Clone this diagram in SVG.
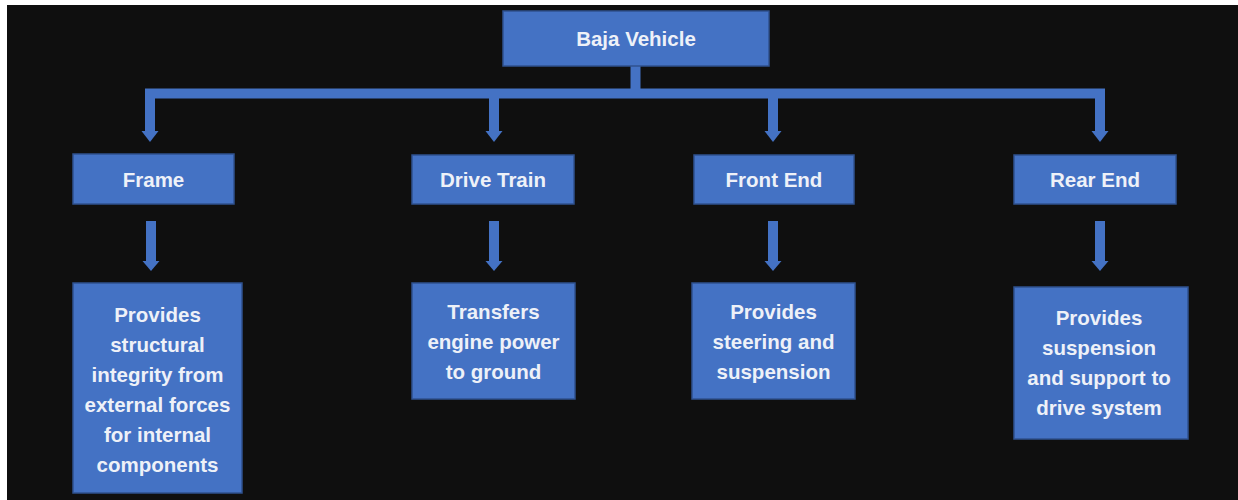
<svg xmlns="http://www.w3.org/2000/svg" width="1238" height="500" viewBox="0 0 1238 500">
<style>
.box{fill:#4472c4;stroke:#2f528f;stroke-width:1.5}
.t{font-family:"Liberation Sans",Arial,sans-serif;font-weight:bold;font-size:20.5px;fill:#eef1f8;text-anchor:middle}
.d{font-size:20.5px}
.ln{fill:none;stroke:#4472c4;stroke-width:10;stroke-linejoin:miter}
.hd{fill:#4472c4}
</style>
<rect x="0" y="0" width="1238" height="500" fill="#ffffff"/>
<rect x="7" y="5" width="1231" height="495" fill="#0f0f0f"/>
<g id="connectors">
<path class="ln" d="M635.5,66 V93.5 M150,132 V93.5 H1100 V132 M494,93.5 V132 M773,93.5 V132"/>
<polygon class="hd" points="141.5,131 158.5,131 150,142"/>
<polygon class="hd" points="485.5,131 502.5,131 494,142"/>
<polygon class="hd" points="764.5,131 781.5,131 773,142"/>
<polygon class="hd" points="1091.5,131 1108.5,131 1100,142"/>
<path class="ln" d="M151,221 V262 M494,221 V262 M773,221 V262 M1100,221 V262"/>
<polygon class="hd" points="142.5,261 159.5,261 151,271"/>
<polygon class="hd" points="485.5,261 502.5,261 494,271"/>
<polygon class="hd" points="764.5,261 781.5,261 773,271"/>
<polygon class="hd" points="1091.5,261 1108.5,261 1100,271"/>
</g>
<g id="baja-vehicle">
<rect class="box" x="503" y="11" width="266" height="55"/>
<text class="t" x="636" y="46">Baja Vehicle</text>
</g>
<g id="frame">
<rect class="box" x="73" y="154" width="161" height="50"/>
<text class="t" x="153.5" y="187">Frame</text>
</g>
<g id="drive-train">
<rect class="box" x="412" y="155" width="162" height="49"/>
<text class="t" x="493" y="187">Drive Train</text>
</g>
<g id="front-end">
<rect class="box" x="694" y="155" width="160" height="49"/>
<text class="t" x="774" y="187">Front End</text>
</g>
<g id="rear-end">
<rect class="box" x="1014" y="155" width="162" height="49"/>
<text class="t" x="1095" y="187">Rear End</text>
</g>
<g id="frame-desc">
<rect class="box" x="73" y="283" width="169" height="210"/>
<text class="t d" x="157.5" y="322">Provides</text>
<text class="t d" x="157.5" y="352">structural</text>
<text class="t d" x="157.5" y="382">integrity from</text>
<text class="t d" x="157.5" y="412">external forces</text>
<text class="t d" x="157.5" y="442">for internal</text>
<text class="t d" x="157.5" y="472">components</text>
</g>
<g id="drive-train-desc">
<rect class="box" x="412" y="283" width="163" height="116"/>
<text class="t d" x="493.5" y="319">Transfers</text>
<text class="t d" x="493.5" y="349">engine power</text>
<text class="t d" x="493.5" y="379">to ground</text>
</g>
<g id="front-end-desc">
<rect class="box" x="692" y="283" width="163" height="116"/>
<text class="t d" x="773.5" y="319">Provides</text>
<text class="t d" x="773.5" y="349">steering and</text>
<text class="t d" x="773.5" y="379">suspension</text>
</g>
<g id="rear-end-desc">
<rect class="box" x="1014" y="287" width="174" height="152"/>
<text class="t d" x="1099" y="325">Provides</text>
<text class="t d" x="1099" y="355">suspension</text>
<text class="t d" x="1099" y="385">and support to</text>
<text class="t d" x="1099" y="415">drive system</text>
</g>
</svg>
